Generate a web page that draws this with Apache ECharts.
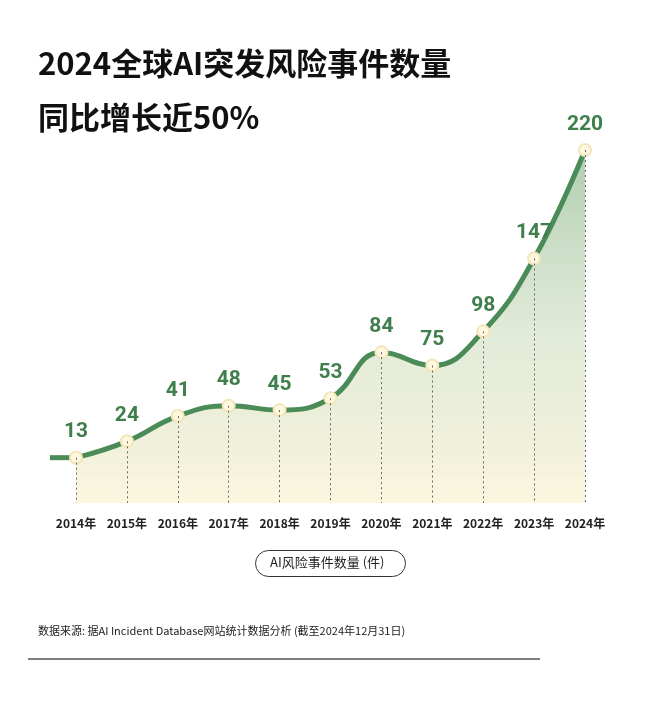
<!DOCTYPE html>
<html><head><meta charset="utf-8">
<script src="https://cdn.jsdelivr.net/npm/echarts@6/dist/echarts.min.js"></script>
<style>html,body{margin:0;background:#fff}#c{width:660px;height:702px}</style>
</head><body><div id="c"></div>
<script>
const years = ['2014年','2015年','2016年','2017年','2018年','2019年','2020年','2021年','2022年','2023年','2024年']
const counts = [13, 24, 41, 48, 45, 53, 84, 75, 98, 147, 220]
const yMin = -17.5

const chart = echarts.init(document.getElementById('c'))
const font = '"Noto Sans CJK SC", "Noto Sans", sans-serif'
const green = '#3f7f4c'

chart.setOption({
    animation: false,
    textStyle: { fontFamily: font },
    grid: { left: 76, right: 75, top: 150, bottom: 199 },
    xAxis: {
        type: 'category', data: years, boundaryGap: false,
        axisLine: { show: false }, axisTick: { show: false },
        axisLabel: { interval: 0, color: '#222', fontWeight: 'bold', fontSize: 12, margin: 14 }
    },
    yAxis: { type: 'value', min: yMin, max: 220, show: false, splitLine: { show: false } },
    series: [{
        type: 'line', data: counts, smooth: 0.45,
        symbol: 'circle', symbolSize: 12,
        itemStyle: { color: '#fff8df', borderColor: '#f2e6b8', borderWidth: 2 },
        lineStyle: { color: '#4a8b57', width: 5 },
        areaStyle: {
            origin: 'start',
            color: new echarts.graphic.LinearGradient(0, 0, 0, 1, [
                { offset: 0, color: 'rgba(110,165,115,0.8)' },
                { offset: 0.55, color: 'rgba(190,210,165,0.6)' },
                { offset: 1, color: 'rgba(252,241,205,0.9)' }
            ])
        },
        label: { show: true, position: 'top', distance: 8, color: green, fontWeight: 'bold', fontSize: 21, fontFamily: 'Roboto, sans-serif' },
        markLine: {
            silent: true, symbol: 'none', label: { show: false },
            lineStyle: { color: '#666', type: [2, 3], width: 1 },
            data: counts.map((v, i) => [{ coord: [i, v] }, { coord: [i, yMin] }])
        },
        z: 3
    }],
    graphic: [
        { id: 't1', type: 'text', left: 38, top: 48, style: { text: '2024全球AI突发风险事件数量', font: 'bold 31px ' + font, fill: '#111' } },
        { id: 't2', type: 'text', left: 38, top: 102, style: { text: '同比增长近50%', font: 'bold 31px ' + font, fill: '#111' } },
        { id: 'pill', type: 'rect', left: 255, top: 550, shape: { width: 150, height: 26, r: 13 }, style: { fill: '#fff', stroke: '#333', lineWidth: 1 } },
        { id: 'pillText', type: 'text', left: 270, top: 556, style: { text: 'AI风险事件数量 (件)', font: '13px ' + font, fill: '#222' } },
        { id: 'src', type: 'text', left: 38, top: 625, style: { text: '数据来源: 据AI Incident Database网站统计数据分析 (截至2024年12月31日)', font: '11px ' + font, fill: '#222' } },
        { id: 'rule', type: 'line', shape: { x1: 28, y1: 659, x2: 540, y2: 659 }, style: { stroke: '#555', lineWidth: 1.5 } }
    ]
})

// short flat lead-in left of the first point
const p0 = chart.convertToPixel({ gridIndex: 0 }, [0, counts[0]])
chart.setOption({
    graphic: [{ id: 'lead', type: 'line', z: 1, shape: { x1: 50, y1: p0[1], x2: p0[0], y2: p0[1] }, style: { stroke: '#4a8b57', lineWidth: 5 } }]
})
</script></body></html>
